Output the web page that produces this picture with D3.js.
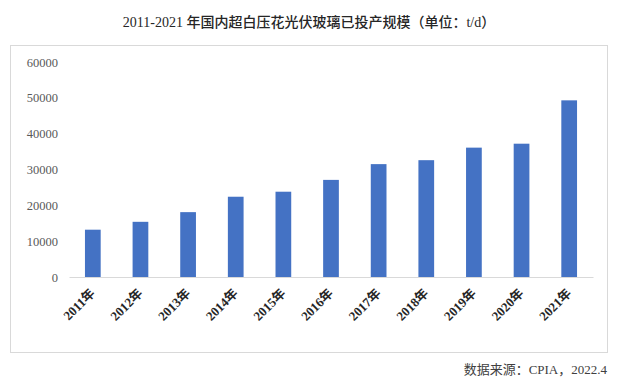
<!DOCTYPE html>
<html>
<head>
<meta charset="utf-8">
<script src="https://cdn.jsdelivr.net/npm/d3@7/dist/d3.min.js"></script>
<style>
  html, body { margin: 0; padding: 0; background: #fff; }
  svg { display: block; }
</style>
</head>
<body>
<svg id="chart" width="617" height="382"></svg>
<script>
const years = ["2011年","2012年","2013年","2014年","2015年","2016年","2017年","2018年","2019年","2020年","2021年"];
const capacity = [13200, 15400, 18100, 22400, 23800, 27100, 31500, 32600, 36100, 37200, 49300];
const yTicks = [0, 10000, 20000, 30000, 40000, 50000, 60000];
const titleText = ["2011-2021 ", "年国内超白压花光伏玻璃已投产规模（单位：", "t/d", "）"];
const sourceText = "数据来源：CPIA，2022.4";

const svg = d3.select("#chart");
const serifCJK = "'Liberation Serif', 'Times New Roman', 'Noto Sans CJK SC', serif";

// title
const title = svg.append("text")
  .attr("x", 309).attr("y", 27)
  .attr("text-anchor", "middle")
  .attr("font-size", 14)
  .attr("fill", "#262626");
title.append("tspan").attr("font-family", "'Liberation Serif', serif").text(titleText[0]);
title.append("tspan").attr("font-family", "'Noto Sans CJK SC', sans-serif").attr("font-weight", 500).text(titleText[1]);
title.append("tspan").attr("font-family", "'Liberation Serif', serif").text(titleText[2]);
title.append("tspan").attr("font-family", "'Noto Sans CJK SC', sans-serif").attr("font-weight", 500).text(titleText[3]);

// frame
svg.append("rect")
  .attr("x", 10.5).attr("y", 45.5)
  .attr("width", 597).attr("height", 307)
  .attr("fill", "none").attr("stroke", "#d9d9d9").attr("stroke-width", 1);

const x = d3.scaleBand().domain(years).range([69, 593]).paddingInner(0.67).paddingOuter(0.335);
const y = d3.scaleLinear().domain([0, 60000]).range([277, 62]);

// y axis
const yAxis = svg.append("g")
  .attr("transform", "translate(69,0)")
  .call(d3.axisLeft(y).tickValues(yTicks).tickSize(0).tickPadding(11).tickFormat(d3.format("d")));
yAxis.select(".domain").remove();
yAxis.selectAll("text")
  .attr("font-family", "'Liberation Serif', serif")
  .attr("font-size", 12.5)
  .attr("fill", "#595959");

// bars
svg.append("g").selectAll("rect")
  .data(capacity)
  .join("rect")
  .attr("x", (d, i) => x(years[i]))
  .attr("y", d => y(d))
  .attr("width", x.bandwidth())
  .attr("height", d => y(0) - y(d))
  .attr("fill", "#4472C4");

// x axis
const xAxis = svg.append("g")
  .attr("transform", "translate(0,277)")
  .call(d3.axisBottom(x).tickSize(0).tickPadding(0));
xAxis.select(".domain").attr("stroke", "#d9d9d9").attr("stroke-width", 1.2);
xAxis.selectAll(".tick text")
  .attr("font-family", serifCJK)
  .attr("font-size", 13)
  .attr("font-weight", "bold")
  .attr("fill", "#262626")
  .attr("text-anchor", "end")
  .attr("dy", null)
  .attr("y", 0)
  .attr("transform", "translate(3,17) rotate(-45)");

// source
svg.append("text")
  .attr("x", 607).attr("y", 374)
  .attr("text-anchor", "end")
  .attr("font-family", serifCJK)
  .attr("font-size", 13)
  .attr("fill", "#404040")
  .text(sourceText);
</script>
</body>
</html>
